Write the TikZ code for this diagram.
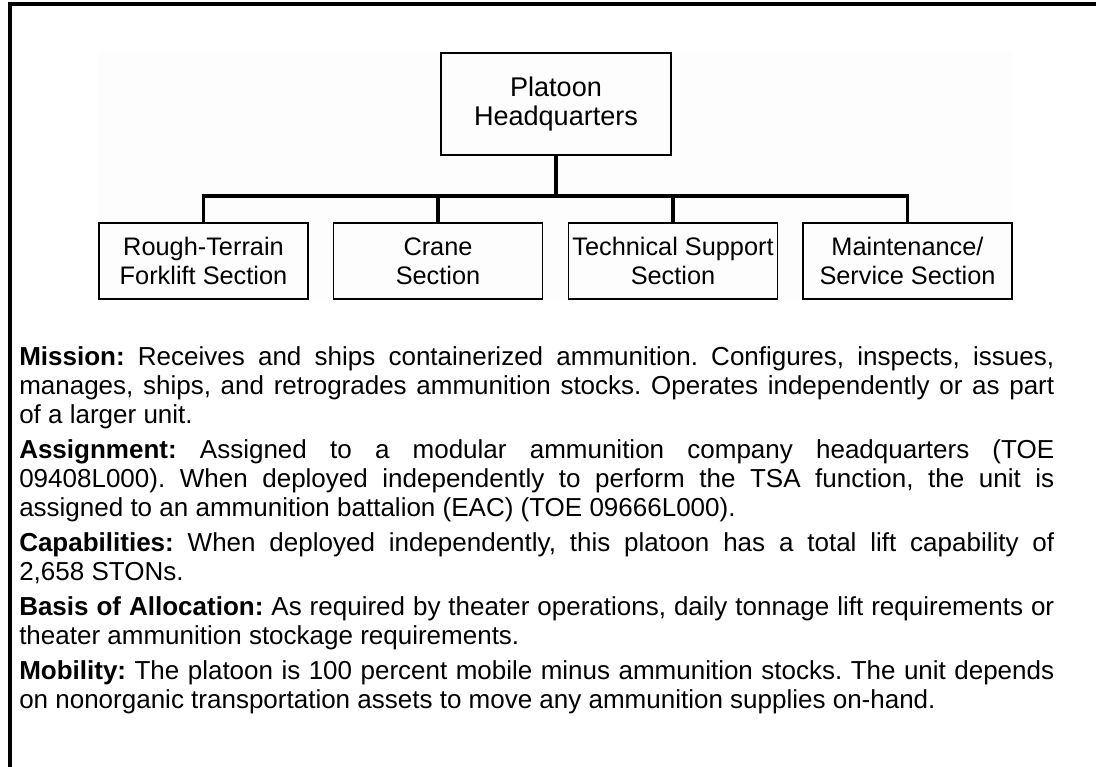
\documentclass[tikz,border=0pt]{standalone}
\usepackage{fontspec}
\setmainfont{Liberation Sans}
\definecolor{chartbg}{RGB}{253,253,253}
\tikzset{
  unit/.style={draw, line width=1.1pt, minimum width=156.75pt, minimum height=57pt, align=center, inner sep=2pt},
  link/.style={line width=2.5pt},
}
\begin{document}
\begin{tikzpicture}[x=0.75pt, y=-0.75pt, font=\fontsize{19pt}{21.75pt}\selectfont]
\useasboundingbox (0,0) rectangle (1097,767);
\fill[chartbg] (98,52) rectangle (1012,299);
\draw[line width=3pt] (10.3,767) -- (10.3,4.3) -- (1096,4.3);
% the chart
\node[unit, minimum width=172.5pt, minimum height=76.5pt, font=\fontsize{20.3pt}{21.5pt}\selectfont] (HQ) at (556,104) {Platoon\\Headquarters};
\node[unit] (RT) at (203.5,261) {Rough-Terrain\\Forklift Section};
\node[unit] (CR) at (438,261) {Crane\\Section};
\node[unit] (TS) at (673,261) {Technical Support\\Section};
\node[unit] (MS) at (907.5,261) {Maintenance/\\Service Section};
\coordinate (bar) at (556,196);
\draw[link] (HQ.south) -- (bar);
\foreach \u in {RT,CR,TS,MS}
  \draw[link] (\u.north) |- (bar);
% the text
\node[anchor=north west, inner sep=0pt, text width=776.25pt, align=justify,
  font=\fontsize{19.5pt}{21.75pt}\selectfont] (txt) at (19,346) {%
\setlength{\parindent}{0pt}\setlength{\parskip}{4.5pt}\hyphenpenalty=10000
\frenchspacing\rightskip=0pt\leftskip=0pt\parfillskip=0pt plus 1fil
\textbf{Mission:} Receives and ships containerized ammunition. Configures, inspects, issues,\linebreak
manages, ships, and retrogrades ammunition stocks. Operates independently or as part\linebreak
of a larger unit.\par
\textbf{Assignment:} Assigned to a modular ammunition company headquarters (TOE\linebreak
09408L000). When deployed independently to perform the TSA function, the unit is\linebreak
assigned to an ammunition battalion (EAC) (TOE 09666L000).\par
\textbf{Capabilities:} When deployed independently, this platoon has a total lift capability of\linebreak
2,658 STONs.\par
\textbf{Basis of Allocation:} As required by theater operations, daily tonnage lift requirements or\linebreak
theater ammunition stockage requirements.\par
\textbf{Mobility:} The platoon is 100 percent mobile minus ammunition stocks. The unit depends\linebreak
on nonorganic transportation assets to move any ammunition supplies on-hand.\par};
\end{tikzpicture}
\end{document}
